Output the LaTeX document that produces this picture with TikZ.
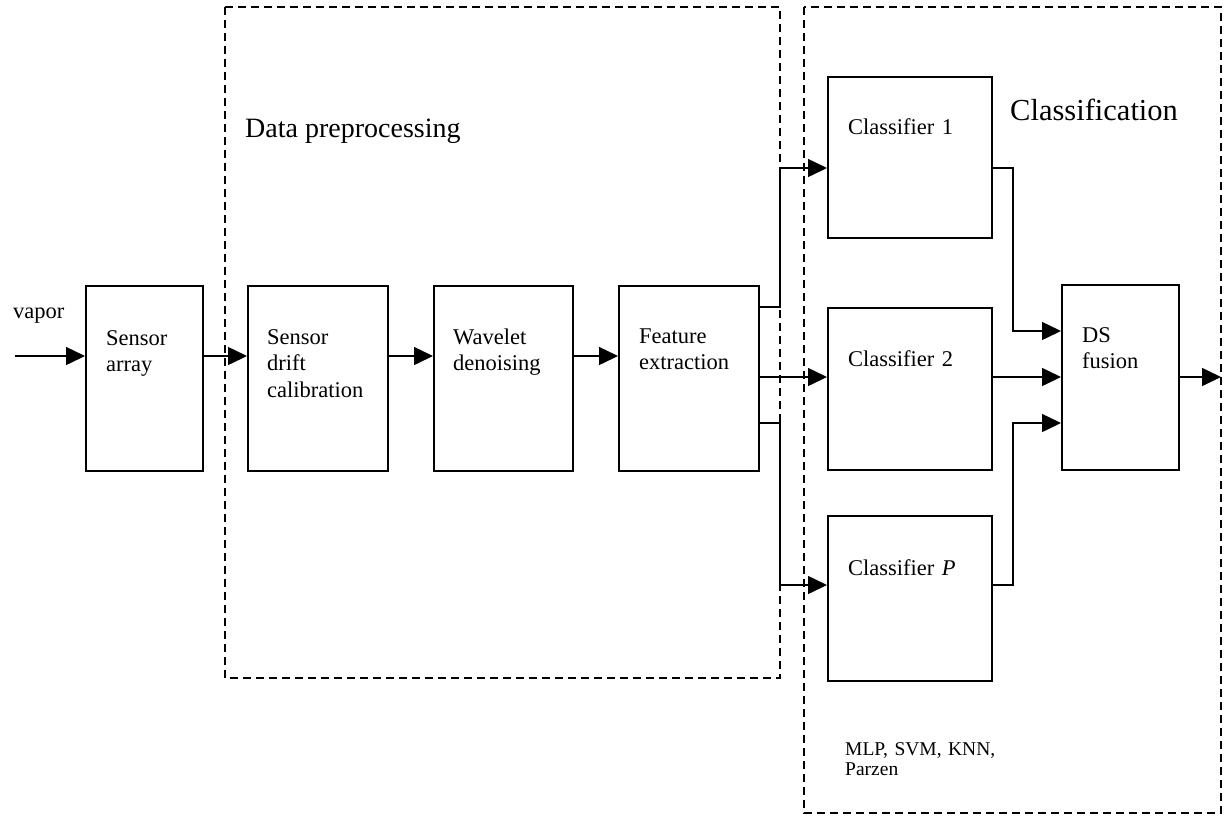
\documentclass[tikz,border=0pt]{standalone}
\usepackage{fontspec}
\setmainfont{Liberation Serif}
\usetikzlibrary{arrows.meta}

\begin{document}
\begin{tikzpicture}[x=1pt,y=-1pt,
  blk/.style={draw, line width=1.8pt, rectangle, inner sep=0pt, anchor=north west},
  txt/.style={anchor=base west, inner sep=0pt, text width=160pt, align=left,
              font=\fontsize{22.5}{26.5}\selectfont},
  arr/.style={line width=1.5pt, -{Triangle[length=19pt,width=18pt]}},
  grp/.style={draw, line width=1.8pt, dash pattern=on 8pt off 5pt}]
\useasboundingbox (0,0) rectangle (1226,815);

% dashed group frames
\draw[grp] (225,7) rectangle (780,678);
\draw[grp] (804,7) rectangle (1221,813);

% processing blocks
\node[blk, minimum width=117pt, minimum height=185pt] (sa) at (85,285) {};
\node[blk, minimum width=140pt, minimum height=185pt] (sd) at (247,285) {};
\node[blk, minimum width=139pt, minimum height=185pt] (wd) at (433,285) {};
\node[blk, minimum width=140pt, minimum height=185pt] (fe) at (618,285) {};
\node[blk, minimum width=164pt, minimum height=161pt] (c1) at (827,76) {};
\node[blk, minimum width=164pt, minimum height=162pt] (c2) at (827,307) {};
\node[blk, minimum width=164pt, minimum height=165pt] (cp) at (827,515) {};
\node[blk, minimum width=117pt, minimum height=185pt] (ds) at (1061,284) {};

% block captions
\node[txt] (tsa) at (106,345) {Sensor\\array};
\node[txt] (tsd) at (267,344) {Sensor\\drift\\calibration};
\node[txt] (twd) at (453,344) {Wavelet\\denoising};
\node[txt] (tfe) at (639,343) {Feature\\extraction};
\node[txt] (tc1) at (848,134) {Classifier 1};
\node[txt] (tc2) at (848,366) {Classifier 2};
\node[txt] (tcp) at (848,575) {Classifier \textit{P}};
\node[txt] (tds) at (1082,342) {DS\\fusion};

% free labels
\node[txt] (vap) at (13,318) {vapor};
\node[anchor=base west, inner sep=0pt, font=\fontsize{28}{32}\selectfont] (gdp) at (245,137) {Data preprocessing};
\node[anchor=base west, inner sep=0pt, font=\fontsize{30.5}{34}\selectfont] (gcl) at (1010,120) {Classification};
\node[anchor=base west, inner sep=0pt, text width=200pt, align=left,
      font=\fontsize{19.5}{20.5}\selectfont] (alg) at (845,755) {MLP, SVM, KNN,\\Parzen};

% signal flow
\coordinate (in) at (15,356);
\draw[arr] (in) -- (sa.west |- in);
\draw[arr] (sa.east |- 0,356) -- (sd.west |- 0,356);
\draw[arr] (sd.east |- 0,356) -- (wd.west |- 0,356);
\draw[arr] (wd.east |- 0,356) -- (fe.west |- 0,356);

\draw[arr] (fe.east |- 0,307) -- (780,307) -- (780,168) -- (c1.west |- 0,168);
\draw[arr] (fe.east |- 0,377) -- (c2.west |- 0,377);
\draw[arr] (fe.east |- 0,423) -- (780,423) -- (780,585) -- (cp.west |- 0,585);

\draw[arr] (c1.east |- 0,168) -- (1013,168) -- (1013,331) -- (ds.west |- 0,331);
\draw[arr] (c2.east |- 0,377) -- (ds.west |- 0,377);
\draw[arr] (cp.east |- 0,585) -- (1013,585) -- (1013,423) -- (ds.west |- 0,423);

\coordinate (out) at (1221,377);
\draw[arr] (ds.east |- out) -- (out);
\end{tikzpicture}
\end{document}
